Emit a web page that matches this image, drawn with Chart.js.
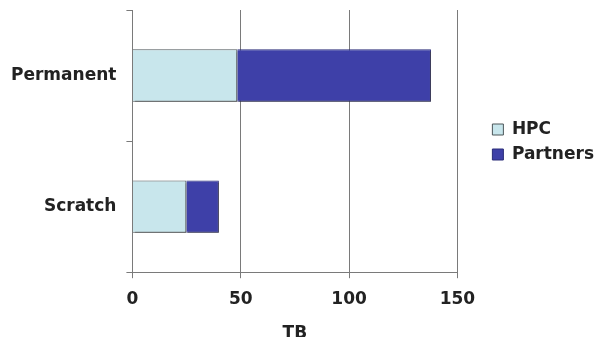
<!DOCTYPE html>
<html>
<head>
<meta charset="utf-8">
<script src="https://cdn.jsdelivr.net/npm/chart.js@4"></script>
<style>
  html, body { margin: 0; padding: 0; background: #fff; overflow: hidden; }
  #wrap { width: 594px; height: 337px; overflow: hidden; position: relative; }
  #chart { position: absolute; left: 0; top: 0; }
</style>
</head>
<body>
<div id="wrap"><canvas id="chart" width="604" height="344"></canvas></div>
<script>
const categories = ["Permanent", "Scratch"];
const hpcValues = [48.4, 24.9];
const partnerValues = [89.4, 15];
const xTicks = [0, 50, 100, 150];

const labelFont = { family: "DejaVu Sans", size: 17, weight: "bold" };

// soft drop shadow under the bars, like the original
const barShadow = {
  id: "barShadow",
  beforeDatasetsDraw(chart) {
    const c = chart.ctx;
    c.save();
    c.shadowColor = "rgba(60,60,60,0.6)";
    c.shadowOffsetX = 2;
    c.shadowOffsetY = 2;
    c.shadowBlur = 1;
  },
  afterDatasetsDraw(chart) {
    chart.ctx.restore();
  }
};

// leave a gap between plot and legend, and lift the legend to the plot's middle
const LEGEND_GAP = 27;
const LEGEND_LIFT = 35;
const legendPlace = {
  id: "legendPlace",
  beforeUpdate(chart) {
    const lg = chart.legend;
    if (!lg || lg._gapPatched) return;
    const fit = lg.fit;
    lg.fit = function () {
      fit.call(this);
      this.width += LEGEND_GAP;
    };
    lg._gapPatched = true;
  },
  afterLayout(chart) {
    const lg = chart.legend;
    lg.left += LEGEND_GAP;
    lg.top -= LEGEND_LIFT;
    lg.bottom -= LEGEND_LIFT;
  }
};

const ctx = document.getElementById("chart").getContext("2d");
new Chart(ctx, {
  type: "bar",
  data: {
    labels: categories,
    datasets: [
      {
        label: "HPC",
        data: hpcValues,
        backgroundColor: "#c8e6ec",
        borderColor: "#4c5659",
        borderWidth: 1,
        barPercentage: 0.8,
        categoryPercentage: 0.5
      },
      {
        label: "Partners",
        data: partnerValues,
        backgroundColor: "#3e40a8",
        borderColor: "#2a2c78",
        borderWidth: 1,
        barPercentage: 0.8,
        categoryPercentage: 0.5
      }
    ]
  },
  options: {
    indexAxis: "y",
    responsive: false,
    animation: false,
    layout: { padding: { top: 10, left: 1, right: 0, bottom: 0 } },
    plugins: {
      legend: {
        position: "right",
        align: "center",
        labels: {
          boxWidth: 11,
          boxHeight: 11,
          padding: 8,
          color: "#222",
          font: labelFont
        }
      },
      tooltip: { enabled: false }
    },
    scales: {
      x: {
        stacked: true,
        min: 0,
        max: 150,
        afterBuildTicks: (axis) => { axis.ticks = xTicks.map((v) => ({ value: v })); },
        ticks: { color: "#222", padding: 11, font: labelFont },
        grid: { color: "#7a7a7a", lineWidth: 1, tickLength: 6 },
        border: { color: "#7a7a7a" },
        title: {
          display: true,
          text: "TB",
          color: "#222",
          padding: { top: 3, bottom: 0 },
          font: labelFont
        }
      },
      y: {
        stacked: true,
        afterFit: (axis) => { axis.paddingTop = 0; axis.paddingBottom = 0; },
        ticks: { color: "#222", padding: 10, font: labelFont },
        grid: { offset: true, drawOnChartArea: false, color: "#7a7a7a", tickLength: 6 },
        border: { color: "#7a7a7a" }
      }
    }
  },
  plugins: [barShadow, legendPlace]
});
</script>
</body>
</html>
